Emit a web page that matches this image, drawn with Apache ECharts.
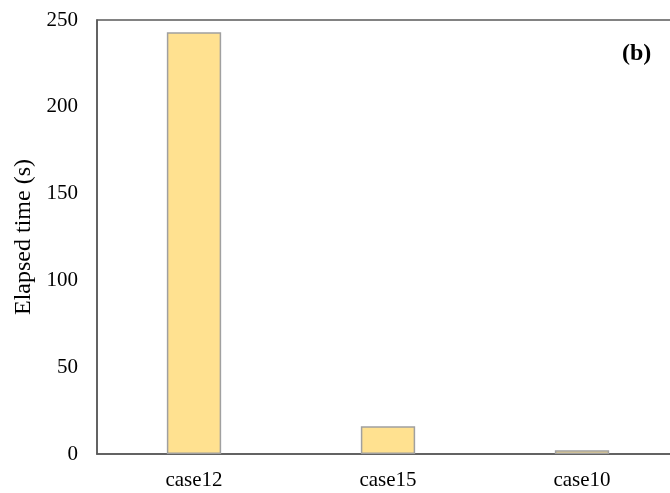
<!DOCTYPE html>
<html>
<head>
<meta charset="utf-8">
<script src="https://cdn.jsdelivr.net/npm/echarts@6/dist/echarts.min.js"></script>
<style>
  html, body { margin: 0; padding: 0; background: #fff; overflow: hidden; }
  /* plot frame runs past the right edge of the window; the overflow is clipped */
  #chart { width: 682px; height: 493px; }
</style>
</head>
<body>
<div id="chart"></div>
<script>
// Elapsed time per case
const categories = ['case12', 'case15', 'case10'];
const elapsed = [243, 16, 2.2];
const yTicks = { min: 0, max: 250, interval: 50 };
const panelTag = '(b)';
const yName = 'Elapsed time (s)';

const serif = '"Liberation Serif", "Times New Roman", serif';
const chart = echarts.init(document.getElementById('chart'), null, { renderer: 'canvas' });

chart.setOption({
  animation: false,
  backgroundColor: '#ffffff',
  grid: {
    left: 97, top: 20, bottom: 39, right: 3,
    show: true, borderColor: '#595959', borderWidth: 1.5, backgroundColor: 'transparent'
  },
  xAxis: {
    type: 'category',
    data: categories,
    axisLine: { show: true, lineStyle: { color: '#595959', width: 1.5 } },
    axisTick: { show: false },
    axisLabel: { color: '#000', fontFamily: serif, fontSize: 21, margin: 16 }
  },
  yAxis: {
    type: 'value',
    min: yTicks.min, max: yTicks.max, interval: yTicks.interval,
    name: yName,
    nameLocation: 'middle',
    nameGap: 59,
    nameTextStyle: { color: '#000', fontFamily: serif, fontSize: 24 },
    axisLine: { show: true, lineStyle: { color: '#595959', width: 1.5 } },
    axisTick: { show: false },
    splitLine: { show: false },
    axisLabel: { color: '#000', fontFamily: serif, fontSize: 21, margin: 19 }
  },
  graphic: [{
    type: 'text',
    left: 622, top: 42,
    style: { text: panelTag, fill: '#000', font: 'bold 24px ' + serif }
  }],
  series: [{
    type: 'bar',
    data: elapsed,
    barWidth: '28%',
    itemStyle: { color: '#FFE190', borderColor: '#A0A0A0', borderWidth: 1.5 }
  }]
});
</script>
</body>
</html>
